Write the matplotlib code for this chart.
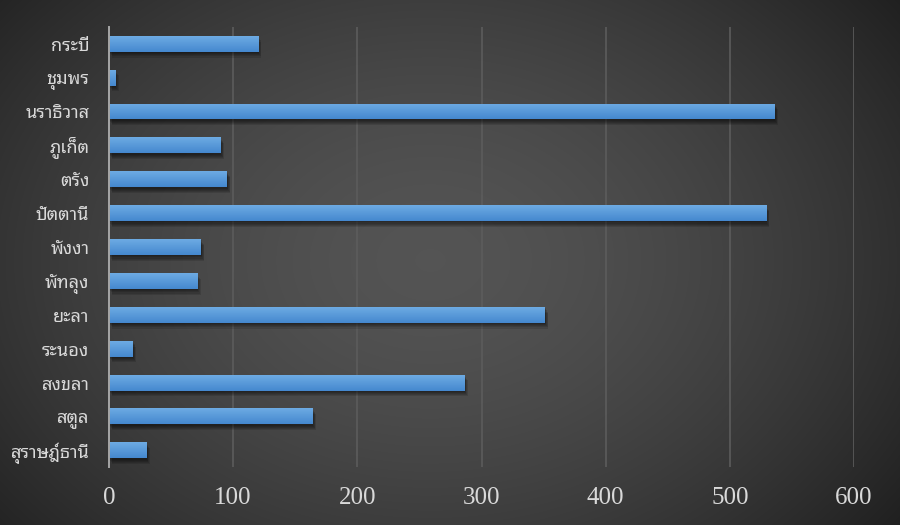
import matplotlib
matplotlib.use("Agg")
import matplotlib.pyplot as plt
import matplotlib.patheffects as pe
import numpy as np

provinces = ["กระบี่", "ชุมพร", "นราธิวาส", "ภูเก็ต", "ตรัง", "ปัตตานี", "พังงา",
             "พัทลุง", "ยะลา", "ระนอง", "สงขลา", "สตูล", "สุราษฎ์ธานี"]
values = [120, 5, 536, 90, 95, 529, 74, 71, 351, 19, 286, 164, 30]
xticks = [0, 100, 200, 300, 400, 500, 600]

fig = plt.figure(figsize=(9, 5.25), dpi=100)

# radial background
bg = fig.add_axes([0, 0, 1, 1], zorder=-10)
yy, xx = np.mgrid[0:525, 0:900]
r = np.sqrt(((xx - 430) / 560.0) ** 2 + ((yy - 260) / 420.0) ** 2)
shade = np.clip(0.33 - 0.19 * r ** 1.6, 0.12, 0.35)
bg.imshow(np.dstack([shade] * 3), aspect="auto", extent=[0, 1, 0, 1])
bg.axis("off")

ax = fig.add_axes([0.121, 0.110, 0.828, 0.839])
ax.set_facecolor("none")

y = np.arange(len(provinces))
bars = ax.barh(y, values, height=0.47, color="#5597d9", zorder=3)

grad = np.linspace(0, 1, 50).reshape(-1, 1)
top = np.array([0x6d, 0xab, 0xe3]) / 255.0
bot = np.array([0x45, 0x88, 0xcf]) / 255.0
cols = top + (bot - top) * grad[..., None]

# soft shadow: a few stacked faint offsets
shadow = [pe.SimplePatchShadow(offset=(dx, dy), shadow_rgbFace="black", alpha=0.12)
          for dx, dy in [(0.5, -1), (1, -1.8), (1.5, -2.6), (2, -3.4), (2.5, -4.2)]]
for b in bars:
    b.set_path_effects(shadow + [pe.Normal()])
    x0, y0 = b.get_x(), b.get_y()
    w, h = b.get_width(), b.get_height()
    im = ax.imshow(cols, extent=[x0, x0 + w, y0 + h, y0], aspect="auto", zorder=4,
                   interpolation="bilinear")
    im.set_clip_path(b)

ax.set_xlim(0, 600)
ax.set_ylim(len(provinces) - 0.5, -0.5)
ax.set_xticks(xticks)
ax.set_yticks(y)
ax.set_yticklabels(provinces, family="Noto Sans Thai Looped", fontsize=13, color="#d9d9d9")
ax.set_xticklabels([str(t) for t in xticks], family="Liberation Serif", fontsize=18, color="#d9d9d9")
ax.tick_params(axis="both", length=0)
ax.tick_params(axis="x", pad=14)
ax.tick_params(axis="y", pad=14)

ax.grid(axis="x", color="#5c5c5c", linewidth=1.2, zorder=0)
for s in ["top", "right", "bottom"]:
    ax.spines[s].set_visible(False)
ax.spines["left"].set_color("#a6a6a6")
ax.spines["left"].set_linewidth(1.4)
ax.spines["left"].set_zorder(5)

fig.savefig("out.png", dpi=100)
